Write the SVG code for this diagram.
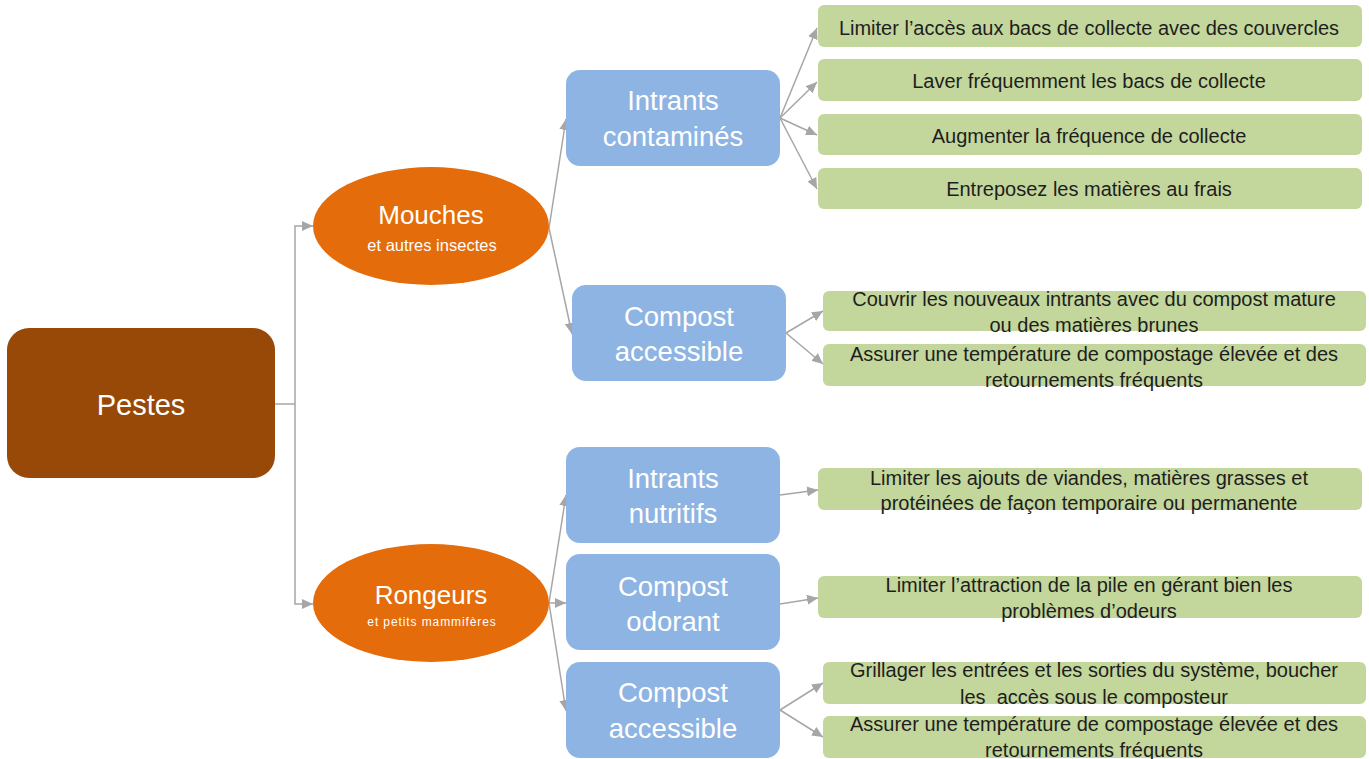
<svg xmlns="http://www.w3.org/2000/svg" width="1369" height="759" viewBox="0 0 1369 759">
<defs>
<marker id="arr" markerUnits="userSpaceOnUse" markerWidth="12" markerHeight="10" refX="11" refY="5" orient="auto">
<path d="M0,0 L11,5 L0,10 z" fill="#A6A6A6"/>
</marker>
<style>
text{font-family:"Liberation Sans",Arial,sans-serif;text-anchor:middle}
.wt{fill:#ffffff}
.big{font-size:27.5px}
.gt{fill:#1e1e1e;font-size:20px}
.blue{fill:#8EB4E3}
.green{fill:#C3D69B}
.con{fill:none;stroke:#A6A6A6;stroke-width:1.5;marker-end:url(#arr)}
</style>
</defs>
<rect width="1369" height="759" fill="#ffffff"/>
<g id="connectors">
<path class="con" d="M275,404 H295 V226 H313"/>
<path class="con" d="M295,404 V604 H313"/>
<path class="con" d="M549,228 L566,119"/>
<path class="con" d="M549,228 L572,334"/>
<path class="con" d="M780,118 L817,28"/>
<path class="con" d="M780,118 L817,82"/>
<path class="con" d="M780,118 L817,135"/>
<path class="con" d="M780,118 L817,189"/>
<path class="con" d="M786,333 L823,311"/>
<path class="con" d="M786,333 L823,364"/>
<path class="con" d="M549,603 L566,495"/>
<path class="con" d="M549,603 L566,603"/>
<path class="con" d="M549,603 L566,711"/>
<path class="con" d="M780,495 L818,490"/>
<path class="con" d="M780,604 L818,598"/>
<path class="con" d="M780,710 L823,683"/>
<path class="con" d="M780,710 L823,737"/>
</g>
<g id="pestes">
<rect x="7" y="328" width="268" height="150" rx="22" fill="#984807"/>
<text class="wt" x="141" y="415" font-size="29">Pestes</text>
</g>
<g id="mouches">
<ellipse cx="431" cy="226" rx="118" ry="59" fill="#E46C0A"/>
<text class="wt" x="431" y="224" font-size="26">Mouches</text>
<text class="wt" x="432" y="251" font-size="16.5">et autres insectes</text>
</g>
<g id="rongeurs">
<ellipse cx="431" cy="603" rx="118" ry="59" fill="#E46C0A"/>
<text class="wt" x="431" y="604" font-size="26">Rongeurs</text>
<text class="wt" x="432" y="626" font-size="12" letter-spacing="0.9">et petits mammifères</text>
</g>
<g id="intrants-contamines">
<rect class="blue" x="566" y="70" width="214" height="96" rx="14"/>
<text class="wt big" x="673" y="110">Intrants</text>
<text class="wt big" x="673" y="146">contaminés</text>
</g>
<g id="compost-accessible-1">
<rect class="blue" x="572" y="285" width="214" height="96" rx="14"/>
<text class="wt big" x="679" y="326">Compost</text>
<text class="wt big" x="679" y="361">accessible</text>
</g>
<g id="intrants-nutritifs">
<rect class="blue" x="566" y="447" width="214" height="96" rx="14"/>
<text class="wt big" x="673" y="488">Intrants</text>
<text class="wt big" x="673" y="523">nutritifs</text>
</g>
<g id="compost-odorant">
<rect class="blue" x="566" y="554" width="214" height="96" rx="14"/>
<text class="wt big" x="673" y="596">Compost</text>
<text class="wt big" x="673" y="631">odorant</text>
</g>
<g id="compost-accessible-2">
<rect class="blue" x="566" y="662" width="214" height="96" rx="14"/>
<text class="wt big" x="673" y="702">Compost</text>
<text class="wt big" x="673" y="738">accessible</text>
</g>
<g id="g1">
<rect class="green" x="818" y="5" width="544" height="42" rx="6"/>
<text class="gt" x="1089" y="35">Limiter l’accès aux bacs de collecte avec des couvercles</text>
</g>
<g id="g2">
<rect class="green" x="818" y="59" width="544" height="42" rx="6"/>
<text class="gt" x="1089" y="88">Laver fréquemment les bacs de collecte</text>
</g>
<g id="g3">
<rect class="green" x="818" y="114" width="544" height="41" rx="6"/>
<text class="gt" x="1089" y="143">Augmenter la fréquence de collecte</text>
</g>
<g id="g4">
<rect class="green" x="818" y="168" width="544" height="41" rx="6"/>
<text class="gt" x="1089" y="196">Entreposez les matières au frais</text>
</g>
<g id="g5">
<rect class="green" x="823" y="291" width="543" height="40" rx="6"/>
<text class="gt" x="1094" y="306">Couvrir les nouveaux intrants avec du compost mature</text>
<text class="gt" x="1094" y="332">ou des matières brunes</text>
</g>
<g id="g6">
<rect class="green" x="823" y="344" width="543" height="42" rx="6"/>
<text class="gt" x="1094" y="361">Assurer une température de compostage élevée et des</text>
<text class="gt" x="1094" y="387">retournements fréquents</text>
</g>
<g id="g7">
<rect class="green" x="818" y="468" width="544" height="42" rx="6"/>
<text class="gt" x="1089" y="485">Limiter les ajouts de viandes, matières grasses et</text>
<text class="gt" x="1089" y="510">protéinées de façon temporaire ou permanente</text>
</g>
<g id="g8">
<rect class="green" x="818" y="576" width="544" height="42" rx="6"/>
<text class="gt" x="1089" y="592">Limiter l’attraction de la pile en gérant bien les</text>
<text class="gt" x="1089" y="618">problèmes d’odeurs</text>
</g>
<g id="g9">
<rect class="green" x="823" y="662" width="543" height="42" rx="6"/>
<text class="gt" x="1094" y="677">Grillager les entrées et les sorties du système, boucher</text>
<text class="gt" x="1094" y="704" xml:space="preserve">les  accès sous le composteur</text>
</g>
<g id="g10">
<rect class="green" x="823" y="716" width="543" height="42" rx="6"/>
<text class="gt" x="1094" y="731">Assurer une température de compostage élevée et des</text>
<text class="gt" x="1094" y="757">retournements fréquents</text>
</g>
</svg>
